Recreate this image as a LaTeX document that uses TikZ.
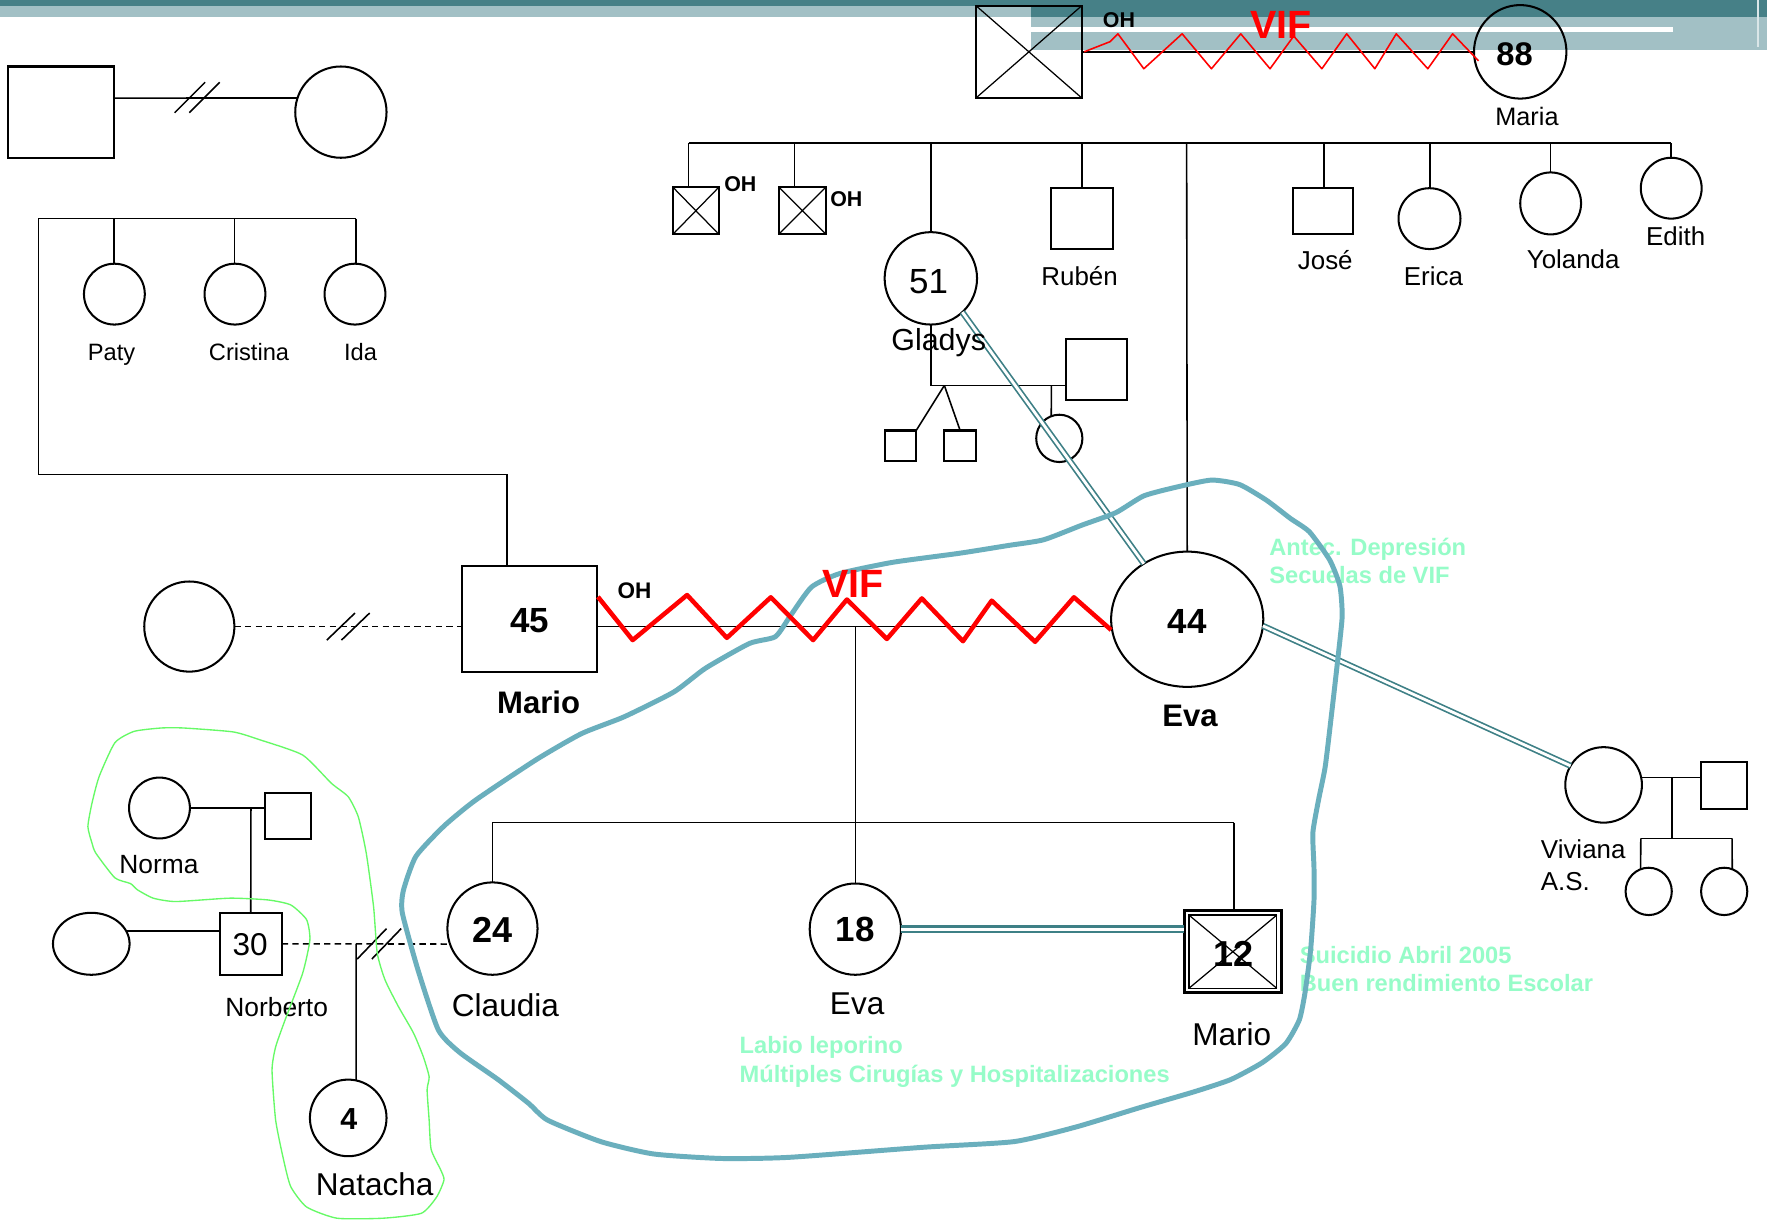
\documentclass[tikz,border=0pt]{standalone}
\usepackage{fontspec}
\setmainfont{Liberation Sans}
\usetikzlibrary{shapes.geometric,calc}
\definecolor{bandDark}{RGB}{70,128,135}
\definecolor{bandLight}{RGB}{162,192,197}
\definecolor{relTeal}{RGB}{62,128,134}
\definecolor{loopBlue}{RGB}{106,175,189}
\definecolor{mintText}{RGB}{150,252,200}
\definecolor{handGreen}{RGB}{102,250,102}
\definecolor{vifRed}{RGB}{255,0,0}
\newcommand{\fsz}[1]{\fontsize{#1}{#1}\selectfont}
\begin{document}
\begin{tikzpicture}[x=0.5pt,y=-0.5pt,
  sz/.style 2 args={minimum width={(#1)*0.5pt},minimum height={(#2)*0.5pt}},
  sq/.style={draw,rectangle,line width=0.9pt,inner sep=0pt,outer sep=0pt},
  circ/.style={draw,ellipse,line width=0.9pt,inner sep=0pt,outer sep=0pt},
  ln/.style={line width=0.7pt},
  xl/.style={line width=0.55pt},
  dln/.style={line width=0.7pt,dash pattern=on 2.8pt off 1.9pt},
  rel/.style={draw=relTeal,double=white,line width=0.75pt,double distance=1.25pt},
  lbl/.style={inner sep=0pt,anchor=base,font=\fsz{11.5}},
  num/.style={inner sep=0pt,anchor=base,font=\fsz{15.5}\bfseries},
  ohl/.style={inner sep=0pt,anchor=base,font=\fsz{9.5}\bfseries},
  vifl/.style={inner sep=0pt,anchor=base,font=\fsz{17.5}\bfseries,text=vifRed},
  mintl/.style={inner sep=0pt,anchor=base west,font=\fsz{10.5}\bfseries,text=mintText},
  bluehand/.style={draw=loopBlue,line width=2.2pt,line join=round},
  greenhand/.style={draw=handGreen,line width=0.6pt,line join=round},
]
\fill[white] (0,0) rectangle (1568,1087);
\useasboundingbox (0,0) rectangle (1568,1087);
% banner
\fill[bandDark] (0,0) rectangle (1568,5);
\fill[bandLight] (0,5) rectangle (915,15);
\fill[bandDark] (915,0) rectangle (1568,15);
\fill[bandLight] (915,15) rectangle (1568,44);
\fill[white] (915,24) rectangle (1485,28.5);
\draw[white!60!bandLight,line width=0.6pt] (1560,0) -- (1560,42);

% ===== maternal grandparents =====
\node[sq,sz={94}{82}] (gpm) at (913,46) {};
\draw[xl] (gpm.north west) -- (gpm.south east) (gpm.north east) -- (gpm.south west);
\node[circ,sz={82}{83}] (gmm) at (1349,46) {};
\draw[ln] (gpm.east) -- (gmm.west);
\draw[vifRed,line width=0.7pt,line join=round] (962,46) -- (985,37) -- (992,30) -- (1015,61) -- (1049,30) -- (1075,61) -- (1101,30) -- (1127,61) -- (1148,32) -- (1173,61) -- (1195,30) -- (1220,61) -- (1239,30) -- (1267,61) -- (1289,30) -- (1312,54);
\node[ohl] (tOHtop) at (993,24) {OH};
\node[vifl] (tVIFtop) at (1137,34) {VIF};
\node[num,font=\fsz{14.5}\bfseries] (t88) at (1344,57.7) {88};
\node[lbl,font=\fsz{11.2}] (tMaria) at (1355,111) {Maria};

% siblings
\node[sq,sz={41}{42}] (ohA) at (617.5,187) {};
\draw[xl] (ohA.north west) -- (ohA.south east) (ohA.north east) -- (ohA.south west);
\node[sq,sz={42}{42}] (ohB) at (712,187) {};
\draw[xl] (ohB.north west) -- (ohB.south east) (ohB.north east) -- (ohB.south west);
\node[circ,sz={82}{82}] (gladys) at (826,247) {};
\node[sq,sz={55}{54}] (ruben) at (960.5,194) {};
\node[sq,sz={54}{41}] (jose) at (1174,187.5) {};
\node[circ,sz={55}{54}] (erica) at (1268.5,194) {};
\node[circ,sz={54}{55}] (yolanda) at (1376,180.5) {};
\node[circ,sz={54}{54}] (edith) at (1483,167) {};
\coordinate (sibA) at (611,127);
\coordinate (sibB) at (705,127);
\coordinate (sibC) at (826,127);
\coordinate (sibD) at (960,127);
\coordinate (sibE) at (1053,127);
\coordinate (sibF) at (1175,127);
\coordinate (sibG) at (1269,127);
\coordinate (sibH) at (1376,127);
\coordinate (sibI) at (1483,127);
\draw[ln] (sibA) -- (sibI);
\draw[ln] (sibA) -- (sibA |- ohA.north);
\draw[ln] (sibB) -- (sibB |- ohB.north);
\draw[ln] (sibC) -- (gladys.north);
\draw[ln] (sibD) -- (sibD |- ruben.north);
\draw[ln] (sibF) -- (sibF |- jose.north);
\draw[ln] (sibG) -- (sibG |- erica.north);
\draw[ln] (sibH) -- (yolanda.north);
\draw[ln] (sibI) -- (edith.north);
\node[ohl] (tOHa) at (657,169.5) {OH};
\node[ohl] (tOHb) at (751,183) {OH};
\node[lbl] (tRuben) at (958,253) {Rubén};
\node[lbl] (tJose) at (1176,239) {José};
\node[lbl] (tErica) at (1272,253) {Erica};
\node[lbl] (tYolanda) at (1396,238) {Yolanda};
\node[lbl] (tEdith) at (1487,217.5) {Edith};

% Gladys family
\node[sq,sz={54}{54}] (gh) at (973,328) {};
\node[sq,sz={28}{27}] (twin1) at (799,395.5) {};
\node[sq,sz={28}{27}] (twin2) at (852,395.5) {};
\node[circ,sz={41}{42}] (gd) at (940,389) {};
\coordinate (gA) at (826,342);
\coordinate (gT) at (838,342);
\coordinate (gD) at (933,342);
\draw[ln] (gladys.south) -- (gA) -- (gA -| gh.west);
\draw[ln] (gT) -- (twin1.north east);
\draw[ln] (gT) -- (twin2.north);
\draw[ln] (gD) -- (gd.110);

% ===== paternal side =====
\node[sq,sz={94}{81}] (pgf) at (54,99.5) {};
\node[circ,sz={81}{81}] (pgm) at (302.5,99.5) {};
\coordinate (pgA) at (0,87);
\draw[ln] (pgf.east |- pgA) -- (pgm.162);
\draw[ln] (155,100) -- (182,73);
\draw[ln] (168,100) -- (195,73);
\node[circ,sz={54}{54}] (paty) at (101.5,261) {};
\node[circ,sz={54}{54}] (cristina) at (208.5,261) {};
\node[circ,sz={54}{54}] (ida) at (315,261) {};
\coordinate (bL) at (34,194);
\coordinate (bP) at (101,194);
\coordinate (bC) at (208,194);
\coordinate (bR) at (316,194);
\draw[ln] (bL) -- (bR);
\draw[ln] (bP) -- (bP |- paty.north);
\draw[ln] (bC) -- (bC |- cristina.north);
\draw[ln] (bR) -- (bR |- ida.north);
\node[lbl,font=\fsz{10.5}] (tPaty) at (99,319.5) {Paty};
\node[lbl,font=\fsz{10.5}] (tCristina) at (221,319.5) {Cristina};
\node[lbl,font=\fsz{10.5}] (tIda) at (320,319.5) {Ida};

% ===== main couple =====
\node[sq,sz={120}{94}] (mario) at (470,549) {};
\node[circ,sz={135}{120}] (eva44) at (1053.5,549.5) {};
\node[circ,sz={80}{80}] (mex) at (168,556) {};
\coordinate (bD) at (34,421);
\coordinate (bE) at (450,421);
\draw[ln] (bL) -- (bD) -- (bE) -- (bE |- mario.north);
\draw[ln] (sibE) -- (eva44.north);
\draw[dln] (mex.east) -- (mex.east -| mario.west);
\draw[ln] (290,568) -- (315,544);
\draw[ln] (303,568) -- (328,544);
\coordinate (cpl) at (759,556);
\draw[ln] (mario.east |- cpl) -- (eva44.west |- cpl);

% children
\node[circ,sz={80}{82}] (claudia) at (437,824) {};
\node[circ,sz={81}{81}] (eva18) at (759,824.5) {};
\node[sq,line width=1.2pt,sz={86}{73}] (mario12) at (1094,844.5) {};
\node[draw,rectangle,line width=0.6pt,inner sep=0pt,outer sep=0pt,sz={78}{65}] (mario12in) at (mario12.center) {};
\draw[xl] (mario12in.north west) -- (mario12in.south east) (mario12in.north east) -- (mario12in.south west);
\coordinate (cH) at (759,730);
\coordinate (chL) at (437,730);
\coordinate (chR) at (1095,730);
\draw[ln] (cpl) -- (cH);
\draw[ln] (chL) -- (chR);
\draw[ln] (chL) -- (claudia.north);
\draw[ln] (cH) -- (eva18.north);
\draw[ln] (chR) -- (chR |- mario12.north);

% Viviana
\node[circ,sz={68}{67}] (viviana) at (1423,696.5) {};
\node[sq,sz={41}{42}] (vsq) at (1529.5,697) {};
\node[circ,sz={41}{42}] (vc1) at (1463,791) {};
\node[circ,sz={41}{42}] (vc2) at (1530,791) {};
\coordinate (vA) at (1483.5,690);
\coordinate (vB) at (1483.5,744);
\coordinate (vL) at (1456,744);
\coordinate (vR) at (1537,744);
\draw[ln] (viviana.east |- vA) -- (vsq.west |- vA);
\draw[ln] (vA) -- (vB);
\draw[ln] (vL) -- (vR);
\draw[ln] (vL) -- (vc1.110);
\draw[ln] (vR) -- (vc2.70);
\node[lbl,anchor=base west] (tViviana) at (1367,761.5) {Viviana};
\node[lbl,anchor=base west] (tAS) at (1367,790) {A.S.};

% Norberto family
\node[circ,sz={54}{54}] (norma) at (141.5,717) {};
\node[sq,sz={41}{41}] (nh) at (255.5,724) {};
\node[sq,sz={55}{55}] (norberto) at (222.5,837.5) {};
\node[circ,sz={68}{55}] (ex2) at (81,837.5) {};
\node[circ,sz={68}{68}] (natacha) at (309,992) {};
\coordinate (nA) at (222.7,717);
\coordinate (nN) at (316,837.5);
\draw[ln] (norma.east) -- (nA -| nh.west);
\draw[ln] (nA) -- (norberto.north);
\draw[ln] (ex2.20) -- (ex2.20 -| norberto.west);
\draw[dln] (norberto.east) -- (claudia.200);
\draw[ln] (nN) -- (natacha.78);
\draw[ln] (317,851) -- (343,824);
\draw[ln] (330,851) -- (356,824);

% emotional (double) relations
\draw[rel] (gladys.-47) -- (eva44.128);
\draw[rel] (eva44.-5) -- (viviana.150);
\draw[rel,line width=1pt,double distance=1.35pt] (eva18.east) -- (eva18.east -| mario12.west);

% texts
\node[lbl,font=\fsz{15.5}] (t51) at (824,260) {51};
\node[lbl,font=\fsz{13.5}] (tGladys) at (833,310.6) {Gladys};
\node[num] (t45) at (470,561) {45};
\node[lbl,font=\fsz{13.8}\bfseries] (tMarioB) at (478,633) {Mario};
\node[ohl,font=\fsz{10}\bfseries] (tOHm) at (563,531) {OH};
\node[num] (t44) at (1053.6,561.8) {44};
\node[lbl,font=\fsz{13.8}\bfseries] (tEvaB) at (1056,645) {Eva};
\node[num,font=\fsz{16}\bfseries] (t24) at (437,836.7) {24};
\node[num] (t18) at (759,835.6) {18};
\node[num,font=\fsz{16}\bfseries] (t12) at (1094.5,858) {12};
\node[lbl,font=\fsz{14}] (t30) at (222,848) {30};
\node[num,font=\fsz{13.5}\bfseries] (t4) at (309.6,1002) {4};
\node[lbl,font=\fsz{14}] (tClaudia) at (448.5,901.6) {Claudia};
\node[lbl,font=\fsz{14}] (tEva) at (760.6,900.6) {Eva};
\node[lbl,font=\fsz{14}] (tMario) at (1093,928) {Mario};
\node[lbl,font=\fsz{11.7}] (tNorma) at (141,775.5) {Norma};
\node[lbl,font=\fsz{11.7}] (tNorberto) at (245.5,901.6) {Norberto};
\node[lbl,font=\fsz{14}] (tNatacha) at (332.5,1061) {Natacha};

\node[mintl] (tAntec) at (1126,492.5) {Antec. Depresión};
\node[mintl] (tSecuelas) at (1126,517.5) {Secuelas de VIF};
\node[mintl] (tSuicidio) at (1153,855) {Suicidio Abril 2005};
\node[mintl] (tBuen) at (1153,880) {Buen rendimiento Escolar};
\node[mintl] (tLabio) at (656,934.5) {Labio leporino};
\node[mintl] (tMultiples) at (656,961) {Múltiples Cirugías y Hospitalizaciones};

% hand-drawn blue loop
\draw[bluehand] plot[smooth cycle,tension=0.35] coordinates {
(1045,432) (1075,426) (1100,430) (1124,444) (1145,460) (1162,472) (1180,497) (1189,520) (1191,547) (1187,586) (1182,630) (1176,680) (1170,710) (1165,739) (1166,770) (1166,799) (1163,843) (1158,881) (1153,905) (1141,926) (1120,943) (1092,958) (1059,969) (1011,983) (955,1000) (900,1013) (820,1018) (700,1027) (640,1028) (580,1024) (533,1013) (486,994) (469,979) (442,958) (408,934) (389,914) (371,861) (357,810) (358,790) (369,760) (394,733) (422,710) (476,674) (516,651) (554,636) (598,614) (626,593) (665,571) (688,565) (701,547) (720,521) (745,509) (792,499) (851,491) (895,484) (926,479) (960,466) (990,455) (1015,440)};

% red VIF zigzag (main couple)
\draw[vifRed,line width=2pt,line join=round] (530.6,529.6) -- (561.4,568) -- (609.7,528) -- (645,566) -- (684,530) -- (721.5,568) -- (751.5,532) -- (787,567) -- (818,531) -- (854.5,569) -- (880,533) -- (918.5,569.5) -- (953,530) -- (986,559);
\node[vifl] (tVIF) at (757,530) {VIF};

% hand-drawn green loop
\draw[greenhand] plot[smooth cycle,tension=0.35] coordinates {
(143,646) (163,646) (207,649.5) (231,656.6) (268.6,670) (294,695) (309,707) (318,725) (325,757) (331.5,804.6) (334.8,846) (341.7,869.6) (353.6,893.3) (367,916.8) (375.6,937.6) (380.8,955.5) (379,967) (380.8,993.8) (382.6,1020) (391,1038) (394,1047) (387.6,1062) (374,1076.6) (340,1081) (299,1081) (272,1071) (258,1053) (251.6,1029) (244.6,994) (241.4,949.5) (244.6,929) (253,905) (268.6,863.5) (275,834) (272,816) (258,803) (238,798.6) (204,797) (156,800) (136,797) (122,789.6) (115.7,784) (102,779) (85,757) (81.6,748) (78,733.5) (81.6,712.8) (88,689) (102,659) (119,649)};
\end{tikzpicture}
\end{document}
